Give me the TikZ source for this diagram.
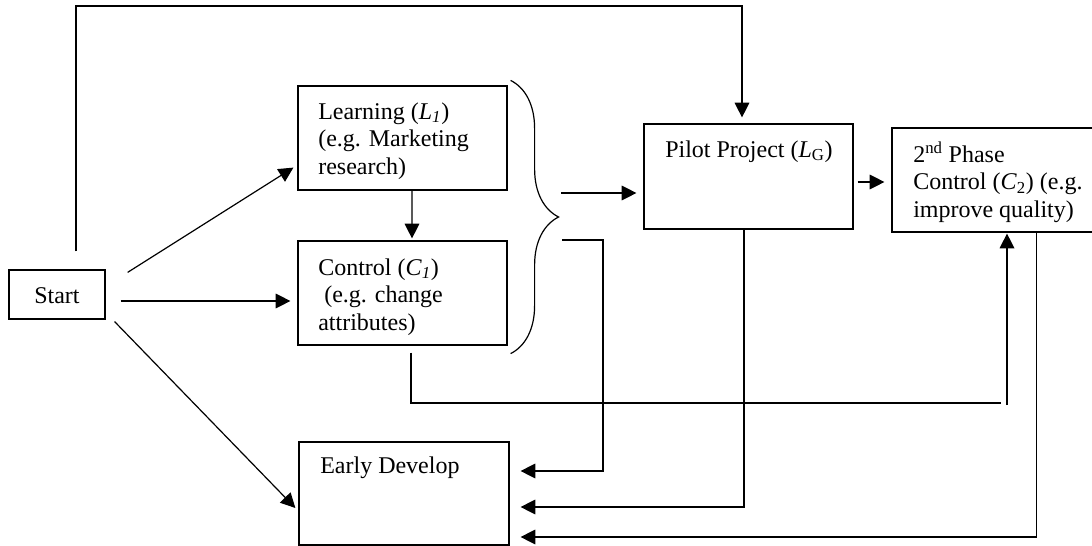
\documentclass[tikz,border=0pt]{standalone}
\usepackage{fontspec}
\setmainfont{Liberation Serif}
\usetikzlibrary{arrows.meta,decorations.pathreplacing}
\tikzset{
  box/.style={draw, line width=0.9pt, inner sep=0pt},
  txt/.style={anchor=base west, align=left, inner sep=0pt, font=\fontsize{18}{20.5}\selectfont},
  ln/.style={line width=0.9pt},
  arr/.style={line width=0.9pt, -{Triangle[length=11pt,width=11pt]}},
}
\begin{document}
\begin{tikzpicture}[x=0.75pt, y=-0.75pt]
  \useasboundingbox (0,0) rectangle (1092,546);
  % boxes
  \node[box, minimum width=72pt, minimum height=36.75pt] (start) at (57,294.5) {};
  \node[box, minimum width=156.75pt, minimum height=78pt] (learn) at (402.5,138) {};
  \node[box, minimum width=156.75pt, minimum height=78pt] (ctrl) at (402.5,293) {};
  \node[box, minimum width=156.75pt, minimum height=78.75pt] (pilot) at (748.5,176.5) {};
  \node[box, minimum width=151.5pt, minimum height=78pt] (phase) at (993,180) {};
  \node[box, minimum width=157.5pt, minimum height=77.25pt] (early) at (404,493.5) {};
  % texts (placed at the baseline of the last line)
  \node[txt] (startt) at (34,303) {Start};
  \node[txt] (learnt) at (318,174) {Learning (\textit{L}\textsubscript{\textit{1}})\\(e.g. Marketing\\research)};
  \node[txt] (ctrlt) at (318,330) {Control (\textit{C}\textsubscript{\textit{1}})\\\hspace*{0.25em}(e.g. change\\attributes)};
  \node[txt] (pilott) at (665,157) {Pilot Project (\textit{L}\textsubscript{G})};
  \node[txt] (phaset) at (913,217) {2\textsuperscript{nd} Phase\\Control (\textit{C}\textsubscript{2}) (e.g.\\improve quality)};
  \node[txt] (earlyt) at (320,473) {Early Develop};
  % brace
  \draw[ln, decorate, decoration={brace, amplitude=36pt, aspect=0.5}]
    ([shift={(3,-5)}]learn.north east) -- ([shift={(3,8)}]ctrl.south east);
  \coordinate (bt) at (560,217);
  \coordinate (top) at (742,6);
  \coordinate (cb) at (1007,405);
  % connectors
  \draw[arr] ([shift={(19,-18)}]start.north) |- (top) -- ([shift={(-6.5,-6)}]pilot.north);
  \draw[arr] ([shift={(22,3)}]start.north east) -- ([shift={(-4,-23)}]learn.south west);
  \draw[arr] ([shift={(15,6.5)}]start.east) -- ([shift={(-7,8)}]ctrl.west);
  \draw[arr] ([shift={(9,2)}]start.south east) -- ([shift={(-3,14.5)}]early.west);
  \draw[arr] ([xshift=7.1pt]learn.south) -- ([shift={(9.5,-2)}]ctrl.north);
  \draw[arr] ([shift={(1,-24)}]bt) -- ([shift={(-7,16.5)}]pilot.west);
  \draw[arr] ([shift={(2,23)}]bt) -| ++(41,231) -- ([shift={(11,-22.5)}]early.east);
  \draw[arr] ([xshift=-3.4pt]pilot.south) |- ([shift={(11,13.5)}]early.east);
  \draw[arr] ([xshift=32.6pt]phase.south) |- ([shift={(11,43.5)}]early.east);
  \draw[arr] ([shift={(4,5.5)}]pilot.east) -- ([shift={(-7,2)}]phase.west);
  \draw[ln] ([shift={(8.5,7)}]ctrl.south) |- ([shift={(-6,-2)}]cb);
  \draw[arr] (cb) -- ([shift={(14,1)}]phase.south);
\end{tikzpicture}
\end{document}
